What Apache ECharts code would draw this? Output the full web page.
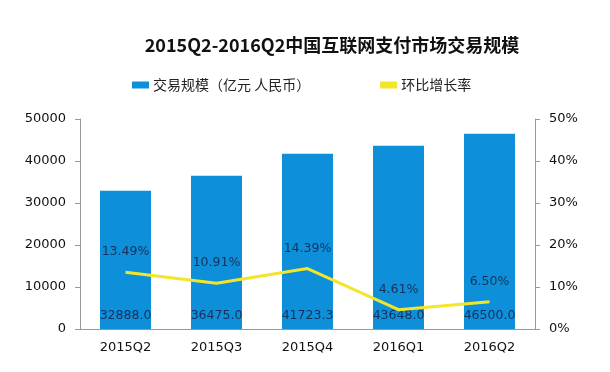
<!DOCTYPE html>
<html><head><meta charset="utf-8">
<script src="https://cdn.jsdelivr.net/npm/echarts@6/dist/echarts.min.js"></script>
<style>html,body{margin:0;padding:0;background:#fff}#c{width:610px;height:372px}</style>
</head><body><div id="c"></div>
<script>
var categories = ['2015Q2','2015Q3','2015Q4','2016Q1','2016Q2'];
var volume = [32888.0, 36475.0, 41723.3, 43648.0, 46500.0];
var growth = [13.49, 10.91, 14.39, 4.61, 6.50];
var leftTicks = [0, 10000, 20000, 30000, 40000, 50000];
var rightTicks = [0, 10, 20, 30, 40, 50];

var font = '"DejaVu Sans", "Noto Sans CJK SC", sans-serif';
var cjk = '"Noto Sans CJK SC", sans-serif';
var chart = echarts.init(document.getElementById('c'));
chart.setOption({
  animation: false,
  textStyle: {fontFamily: font},
  title: {
    text: '2015Q2-2016Q2中国互联网支付市场交易规模',
    left: 327, textAlign: 'center', top: 31,
    textStyle: {fontSize: 18, fontWeight: 'bold', color: '#111', fontFamily: cjk}
  },
  legend: {
    top: 73, left: 127, itemGap: 70,
    itemWidth: 17, itemHeight: 7,
    textStyle: {fontSize: 14, color: '#222', fontFamily: cjk, padding: [0,0,0,-1]},
    data: [
      {name: '交易规模（亿元 人民币）', icon: 'rect'},
      {name: '环比增长率', icon: 'rect', itemStyle: {color: '#f2e52a'}}
    ]
  },
  grid: {left: 80, right: 75, top: 119, bottom: 43},
  xAxis: {
    type: 'category', data: categories,
    axisLine: {lineStyle: {color: '#999'}},
    axisTick: {show: false},
    axisLabel: {fontSize: 13, color: '#111', margin: 12, fontFamily: font}
  },
  yAxis: [
    {type: 'value', min: leftTicks[0], max: leftTicks[leftTicks.length-1], interval: 10000,
     axisLine: {show: true, lineStyle: {color: '#999'}},
     axisTick: {show: true, length: 5, lineStyle: {color: '#999'}},
     splitLine: {show: false},
     axisLabel: {fontSize: 13, color: '#111', margin: 14, fontFamily: font,
       formatter: function(v){ return String(v); }}},
    {type: 'value', min: rightTicks[0], max: rightTicks[rightTicks.length-1], interval: 10,
     axisLine: {show: true, lineStyle: {color: '#999'}},
     axisTick: {show: true, length: 5, lineStyle: {color: '#999'}},
     splitLine: {show: false},
     axisLabel: {fontSize: 13, color: '#111', margin: 14, fontFamily: font, formatter: '{value}%'}}
  ],
  series: [
    {name: '交易规模（亿元 人民币）', type: 'bar', data: volume, barWidth: 51,
     itemStyle: {color: '#0d8fd9'},
     label: {show: true, position: 'insideBottom', distance: 7, fontSize: 12.5, color: '#16325c', fontFamily: font,
       formatter: function(p){ return p.value.toFixed(1); }}},
    {name: '环比增长率', type: 'line', yAxisIndex: 1, data: growth,
     symbol: 'circle', symbolSize: 0, showSymbol: true,
     lineStyle: {color: '#f2e52a', width: 3}, itemStyle: {color: '#f2e52a'},
     label: {show: true, position: 'top', distance: 14, fontSize: 12.5, color: '#16325c', fontFamily: font,
       formatter: function(p){ return p.value.toFixed(2) + '%'; }}}
  ]
});
</script></body></html>
